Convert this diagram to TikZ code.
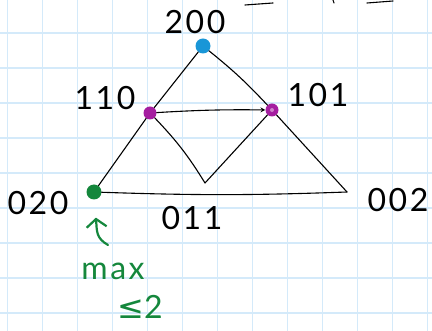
\documentclass[tikz,border=0pt]{standalone}
\usepackage{fontspec}
\usetikzlibrary{arrows.meta}
\newfontfamily\handfont[LetterSpace=8]{Lato}
\newfontfamily\symfont{DejaVu Sans}
\definecolor{gridblue}{RGB}{212,234,250}
\definecolor{dotblue}{RGB}{25,150,215}
\definecolor{dotpink}{RGB}{165,30,160}
\definecolor{markgreen}{RGB}{20,135,60}
\tikzset{
  vert/.style={circle, inner sep=0pt, minimum size=13pt},
  lbl/.style={font=\handfont\fontsize{32}{34}\selectfont, inner sep=0pt},
  edge/.style={line width=1.1pt, line cap=round, line join=round},
}

\begin{document}
\begin{tikzpicture}[x=1pt, y=-1pt, >=stealth]
  \useasboundingbox (0,0) rectangle (432,331);
  % squared paper
  \foreach \gx in {7.7, 42.7, ..., 432} {
    \draw[gridblue, line width=1.3pt] (\gx,0) -- (\gx,331);
  }
  \foreach \gy in {33, 68, ..., 331} {
    \draw[gridblue, line width=1.3pt] (0,\gy) -- (432,\gy);
  }
  % cut-off strokes at the top edge
  \draw[edge] (245,5) -- (273,3);
  \draw[edge] (333,0) -- (334,3);
  \draw[edge] (367,3) -- (393,1);
  % vertices
  \node[vert, fill=dotblue, minimum size=15pt] (v200) at (203,46) {};
  \node[vert, fill=dotpink] (v110) at (150,113) {};
  \node[vert, fill=dotpink] (v101) at (272,110) {};
  \node[vert, fill=markgreen, minimum size=15pt] (v020) at (94,192) {};
  \coordinate (v002) at (347,192);
  \coordinate (v011) at (205,183);
  \fill[dotpink!55!white] (v101) circle (2pt);
  % edges
  \draw[edge] (v200) -- (v110);
  \draw[edge] (v110) -- (v020);
  \draw[edge] (v020) to[bend right=2] (v002);
  \draw[edge] (v200) to[bend left=4] (v101);
  \draw[edge] (v101) -- (v002);
  \draw[edge, ->] (v110) to[bend left=2] (v101);
  \draw[edge] (v110) to[bend left=6] (v011);
  \draw[edge] (v101) -- (v011);
  % labels
  \node[lbl] (t200) at (195,22) {200};
  \node[lbl] (t110) at (105,98) {110};
  \node[lbl] (t101) at (318,95) {101};
  \node[lbl] (t020) at (38,203) {020};
  \node[lbl] (t002) at (398,200) {002};
  \node[lbl] (t011) at (192,218) {011};
  % bound note
  \node[lbl, text=markgreen] (tmax) at (113,271) {max};
  \node[lbl, text=markgreen] (tle) at (140,307) {{\symfont ≤}2};
  \coordinate (atail) at (108,245);
  \draw[edge, markgreen, line width=2.2pt, -{Straight Barb[length=8pt, width=20pt]}, shorten >=18pt] (atail) .. controls (96,238) and (97,232) .. (v020);
\end{tikzpicture}
\end{document}
